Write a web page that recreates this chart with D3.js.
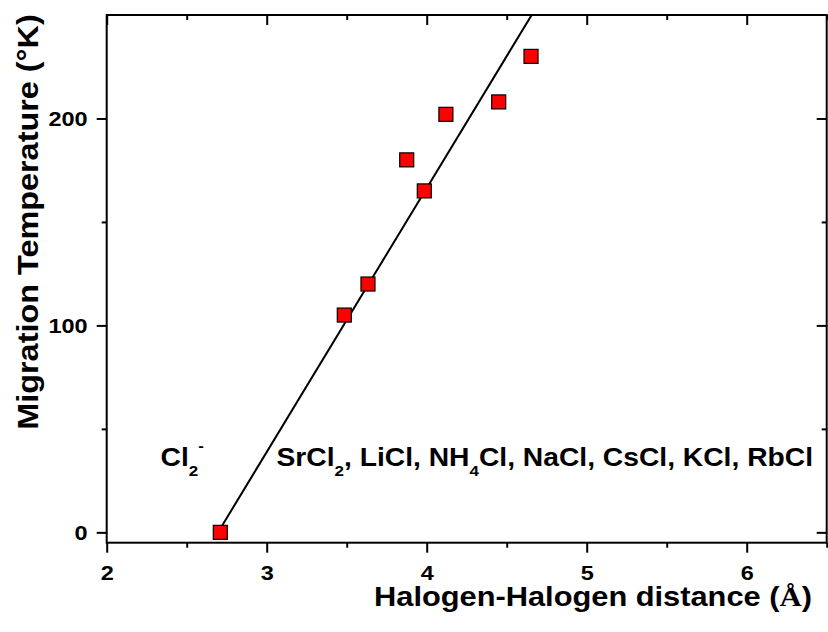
<!DOCTYPE html>
<html>
<head>
<meta charset="utf-8">
<script src="https://cdn.jsdelivr.net/npm/d3@7"></script>
<style>
  html, body { margin: 0; padding: 0; background: #fff; }
  svg { display: block; }
  text { font-family: "Liberation Sans", Arial, sans-serif; font-weight: bold; fill: #000; }
</style>
</head>
<body>
<svg id="chart" width="828" height="632"></svg>
<script>
// ---- Data ----
const distance = [2.71, 3.485, 3.633, 3.875, 3.985, 4.12, 4.45, 4.652];
const temperature = [0, 105, 120, 180, 165, 202, 208, 230];
const fitX = [2.688, 4.656];
const fitY = [-1, 250];
const xMajorTicks = [2, 3, 4, 5, 6];
const xMinorTicks = [2.5, 3.5, 4.5, 5.5, 6.5];
const yMajorTicks = [0, 100, 200];
const yMinorTicks = [50, 150];
const xTitle = "Halogen-Halogen distance (";
const xTitleUnit = "Å";
const yTitle = "Migration Temperature (°K)";

// ---- Layout ----
const svg = d3.select("#chart");
const L = 106.7, R = 826.7, T = 15, B = 542.7;
const x = d3.scaleLinear().domain([2, 6.5]).range([L, R]);
const y = d3.scaleLinear().domain([-5, 250]).range([B, T]);
const SX = 1.12;

function styleAxis(g) {
  g.select(".domain").remove();
  g.selectAll("line").attr("stroke", "#000").attr("stroke-width", 2);
}

// bottom axis (major + minor, outward)
const gB = svg.append("g").attr("transform", `translate(0,${B})`);
gB.call(d3.axisBottom(x).tickValues(xMajorTicks).tickSize(10).tickFormat(d3.format("d")));
styleAxis(gB);
gB.selectAll(".tick text").attr("y", null).attr("dy", null)
  .style("font-size", "21px")
  .attr("text-anchor", "middle")
  .attr("transform", `translate(0,37.5) scale(${SX},1)`);
const gBm = svg.append("g").attr("transform", `translate(0,${B})`);
gBm.call(d3.axisBottom(x).tickValues(xMinorTicks).tickSize(5).tickFormat(""));
styleAxis(gBm);

// top axis (inward)
const gT = svg.append("g").attr("transform", `translate(0,${T})`);
gT.call(d3.axisBottom(x).tickValues(xMajorTicks).tickSize(10).tickFormat(""));
styleAxis(gT);
const gTm = svg.append("g").attr("transform", `translate(0,${T})`);
gTm.call(d3.axisBottom(x).tickValues(xMinorTicks).tickSize(5).tickFormat(""));
styleAxis(gTm);

// left axis (outward)
const gL = svg.append("g").attr("transform", `translate(${L},0)`);
gL.call(d3.axisLeft(y).tickValues(yMajorTicks).tickSize(10).tickFormat(d3.format("d")));
styleAxis(gL);
gL.selectAll(".tick text").attr("x", null).attr("dy", null)
  .style("font-size", "21px")
  .attr("text-anchor", "end")
  .attr("transform", `translate(-19,7.5) scale(${SX},1)`);
const gLm = svg.append("g").attr("transform", `translate(${L},0)`);
gLm.call(d3.axisLeft(y).tickValues(yMinorTicks).tickSize(5).tickFormat(""));
styleAxis(gLm);

// right axis (inward)
const gR = svg.append("g").attr("transform", `translate(${R},0)`);
gR.call(d3.axisLeft(y).tickValues(yMajorTicks).tickSize(10).tickFormat(""));
styleAxis(gR);
const gRm = svg.append("g").attr("transform", `translate(${R},0)`);
gRm.call(d3.axisLeft(y).tickValues(yMinorTicks).tickSize(5).tickFormat(""));
styleAxis(gRm);

// frame
svg.append("rect").attr("x", L).attr("y", T).attr("width", R - L).attr("height", B - T)
  .attr("fill", "none").attr("stroke", "#000").attr("stroke-width", 2);

// clip
svg.append("clipPath").attr("id", "clip").append("rect")
  .attr("x", L).attr("y", T).attr("width", R - L).attr("height", B - T);

// fit line
svg.append("path")
  .datum(fitX.map((d, i) => [d, fitY[i]]))
  .attr("clip-path", "url(#clip)")
  .attr("fill", "none").attr("stroke", "#000").attr("stroke-width", 2)
  .attr("d", d3.line().x(d => x(d[0])).y(d => y(d[1])));

// points
const S = 14;
svg.append("g").selectAll("rect").data(distance.map((d, i) => [d, temperature[i]]))
  .join("rect")
  .attr("x", d => x(d[0]) - S / 2).attr("y", d => y(d[1]) - S / 2)
  .attr("width", S).attr("height", S)
  .attr("fill", "#ff0000").attr("stroke", "#000").attr("stroke-width", 1.2);

// annotations
function subText(parent, tx, ty, parts, size, sx) {
  const t = parent.append("text")
    .attr("transform", `translate(${tx},${ty}) scale(${sx},1)`)
    .style("font-size", size + "px");
  let base = 0;
  parts.forEach(p => {
    const shift = p.type === "sub" ? 10 : p.type === "sup" ? -15 : 0;
    t.append("tspan")
      .attr("dy", shift - base)
      .style("font-size", (p.type ? 15 : size) + "px")
      .text(p.s);
    base = shift;
  });
  return t;
}
subText(svg, 160.5, 466, [{s: "Cl"}, {s: "2", type: "sub"}, {s: "-", type: "sup"}], 25, 1.13);
subText(svg, 276.5, 466, [
  {s: "SrCl"}, {s: "2", type: "sub"}, {s: ", LiCl, NH"}, {s: "4", type: "sub"},
  {s: "Cl, NaCl, CsCl, KCl, RbCl"}
], 25, 1.13);

// axis titles
const xt = svg.append("text")
  .attr("transform", `translate(593,606) scale(1.1,1)`)
  .attr("text-anchor", "middle").style("font-size", "28px");
xt.append("tspan").text(xTitle);
xt.append("tspan").style("font-family", "'Liberation Serif', 'Times New Roman', serif").text(xTitleUnit);
xt.append("tspan").text(")");

svg.append("text")
  .attr("transform", `translate(38,222) rotate(-90) scale(1.08,1)`)
  .attr("text-anchor", "middle").style("font-size", "30px")
  .text(yTitle);
</script>
</body>
</html>
